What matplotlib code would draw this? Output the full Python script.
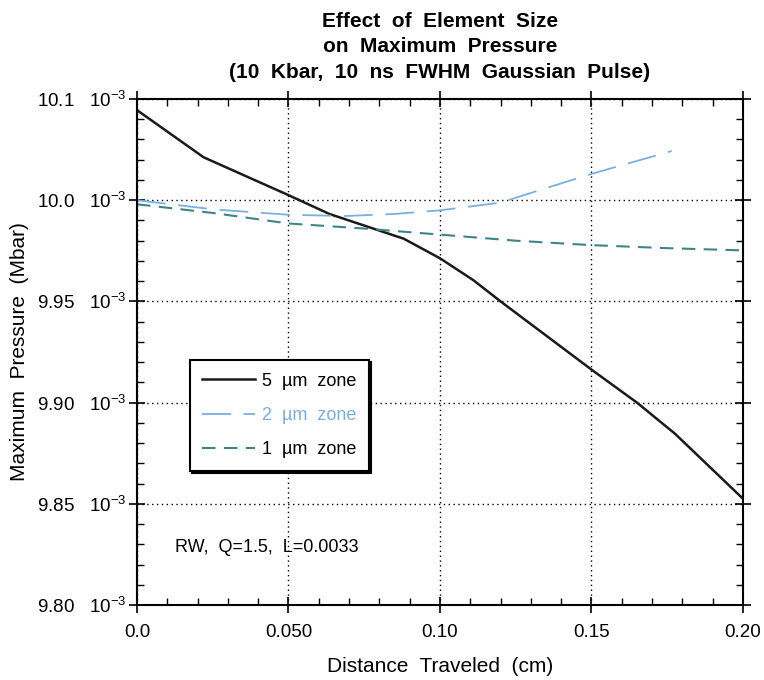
import numpy as np
from matplotlib import pyplot as plt

plt.rcParams['font.family'] = ['Liberation Sans', 'DejaVu Sans']
plt.rcParams['mathtext.fontset'] = 'custom'
plt.rcParams['mathtext.rm'] = 'Liberation Sans'
plt.rcParams['mathtext.it'] = 'Liberation Sans:italic'
plt.rcParams['mathtext.bf'] = 'Liberation Sans:bold'

# 5 um zone (solid black)
x5 = [0.0, 0.022, 0.05, 0.0635, 0.088, 0.10, 0.111, 0.12, 0.15, 0.165, 0.1775, 0.20]
y5 = [10.0445, 10.0212, 10.0025, 9.9932, 9.9810, 9.9713, 9.9605, 9.9500, 9.9163, 9.9000, 9.8847, 9.8525]

# 2 um zone (long dash, light blue)
x2 = [0.0, 0.025, 0.05, 0.069, 0.085, 0.10, 0.12, 0.134, 0.15, 0.1765]
y2 = [10.0, 9.9955, 9.9928, 9.9922, 9.9932, 9.9950, 9.9988, 10.0055, 10.0130, 10.0243]

# 1 um zone (short dash, teal)
x1 = [0.0, 0.025, 0.05, 0.075, 0.10, 0.125, 0.15, 0.175, 0.20]
y1 = [9.998, 9.9937, 9.9885, 9.9860, 9.9830, 9.9800, 9.9778, 9.9763, 9.9752]

labels = ['5  \u00b5m  zone', '2  \u00b5m  zone', '1  \u00b5m  zone']
xticks = [0.0, 0.05, 0.10, 0.15, 0.20]
xticklabels = ['0.0', '0.050', '0.10', '0.15', '0.20']
yticks = [9.80, 9.85, 9.90, 9.95, 10.0, 10.05]
yticklabels = ['9.80', '9.85', '9.90', '9.95', '10.0', '10.1']

fig = plt.figure(figsize=(7.64, 6.80), dpi=100)
ax = fig.add_axes([0.1793, 0.1103, 0.7932, 0.7441])

ax.plot(x5, y5, color='#1a1a1a', lw=1.8, label=labels[0])
ax.plot(x2, y2, color='#7ab0e0', lw=1.3, linestyle=(0, (16, 7)), label=labels[1])
ax.plot(x1, y1, color='#3f8587', lw=1.5, linestyle=(0, (6.5, 4)), label=labels[2])

ax.set_xlim(0, 0.20)
ax.set_ylim(9.80, 10.05)
ax.set_xticks(xticks)
ax.set_xticklabels(xticklabels)
ax.set_yticks(yticks)
ax.set_yticklabels([t + '   10$^{-3}$' for t in yticklabels])
ax.set_xticks(np.arange(0, 0.2001, 0.01), minor=True)
ax.set_yticks(np.arange(9.80, 10.0501, 0.01), minor=True)

ax.grid(True, which='major', color='black', linestyle=(0, (1, 2.5)), lw=1.0)
ax.tick_params(which='major', direction='inout', length=11, width=1.2,
               top=True, right=True, labelsize=13.5)
ax.tick_params(axis='y', which='major', pad=2)
ax.tick_params(axis='x', which='major', pad=8)
ax.tick_params(which='minor', direction='in', length=5, width=1.0,
               top=True, right=True)
for s in ax.spines.values():
    s.set_linewidth(1.5)

ax.set_xlabel('Distance  Traveled  (cm)', fontsize=15, labelpad=12)
ax.set_ylabel('Maximum  Pressure  (Mbar)', fontsize=15, labelpad=6)
ax.set_title('Effect  of  Element  Size\non  Maximum  Pressure\n(10  Kbar,  10  ns  FWHM  Gaussian  Pulse)',
             fontsize=15, fontweight='bold', linespacing=1.45, pad=15)

leg = ax.legend(loc='upper left', bbox_to_anchor=(0.087, 0.484), borderaxespad=0,
                fontsize=13, fancybox=False, edgecolor='black', framealpha=1,
                handlelength=2.9, handletextpad=0.4, labelspacing=0.95, borderpad=0.7,
                shadow={'color': 'black', 'alpha': 1, 'ox': 1.5, 'oy': -1.5})
leg.get_frame().set_linewidth(1.5)
leg.get_texts()[1].set_color('#7ab0e0')

ax.text(0.063, 0.113, 'RW,  Q=1.5,  L=0.0033', transform=ax.transAxes,
        fontsize=13, va='center', ha='left')

plt.savefig('out.png', dpi=100)
